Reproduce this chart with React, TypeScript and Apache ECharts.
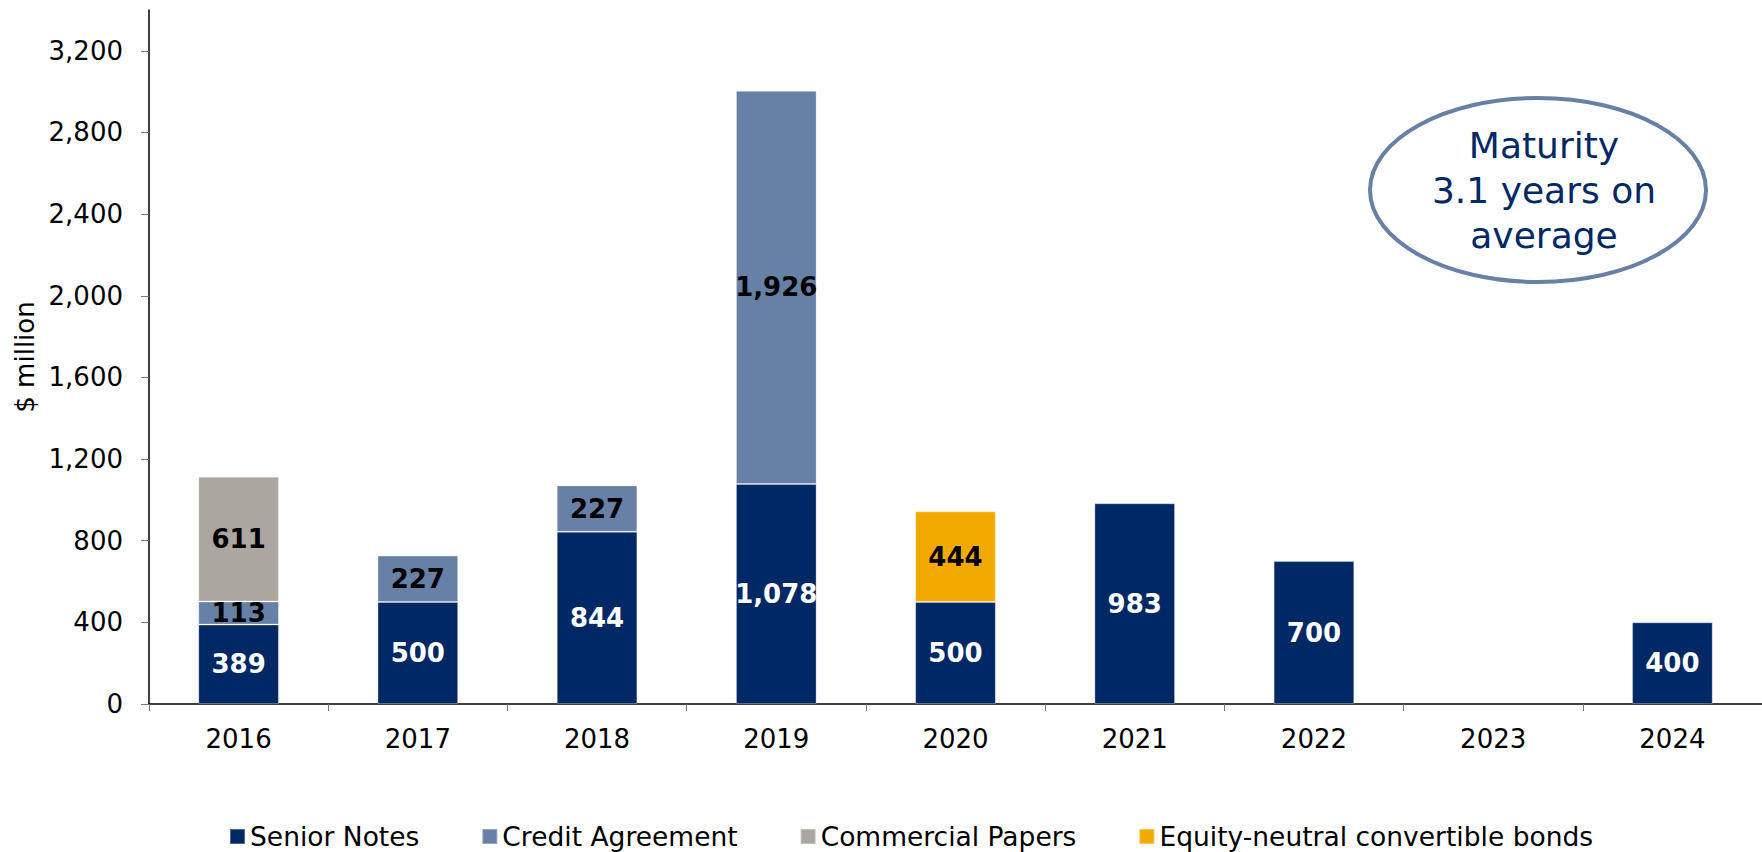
import React, { useEffect, useRef } from "react";
import * as echarts from "echarts";

const years = ["2016", "2017", "2018", "2019", "2020", "2021", "2022", "2023", "2024"];
const seniorNotes = [389, 500, 844, 1078, 500, 983, 700, 0, 400];
const creditAgreement = [113, 227, 227, 1926, 0, 0, 0, 0, 0];
const commercialPapers = [611, 0, 0, 0, 0, 0, 0, 0, 0];
const convertibleBonds = [0, 0, 0, 0, 444, 0, 0, 0, 0];
const yTicks = [0, 400, 800, 1200, 1600, 2000, 2400, 2800, 3200];
const noteLines = ["Maturity", "3.1 years on", "average"];

const FONT = "'DejaVu Sans', Verdana, sans-serif";
const fmt = (v: number) => v.toLocaleString("en-US");

export default function App() {
  const ref = useRef<HTMLDivElement>(null);
  useEffect(() => {
    if (!ref.current) return;
    const chart = echarts.init(ref.current, null, { renderer: "svg" });
    const mkSeries = (name: string, data: number[], color: string, labelColor: string) => ({
      name,
      type: "bar",
      stack: "total",
      data: data.map((v) => (v ? v : null)),
      barWidth: "45%",
      itemStyle: { color, borderColor: "rgba(255,255,255,0.3)", borderWidth: 1 },
      label: {
        show: true,
        position: "inside",
        color: labelColor,
        fontFamily: FONT,
        fontSize: 26,
        fontWeight: "bold",
        formatter: (p: any) => (p.value ? fmt(p.value) : ""),
      },
    });
    chart.setOption({
      animation: false,
      backgroundColor: "#ffffff",
      textStyle: { fontFamily: FONT },
      grid: { left: 149, right: -9, top: 10, bottom: 148, containLabel: false },
      legend: {
        left: 224,
        top: 818,
        itemWidth: 15,
        itemHeight: 15,
        itemGap: 62,
        icon: "rect",
        textStyle: { fontFamily: FONT, fontSize: 26.5, color: "#000" },
        data: ["Senior Notes", "Credit Agreement", "Commercial Papers", "Equity-neutral convertible bonds"],
      },
      xAxis: {
        type: "category",
        data: years,
        axisLine: { lineStyle: { color: "#000", width: 1.5 } },
        axisTick: { show: true, length: 7, lineStyle: { color: "#777" } },
        axisLabel: { fontFamily: FONT, fontSize: 26, color: "#000", margin: 22 },
      },
      yAxis: {
        type: "value",
        min: 0,
        max: 3400,
        interval: 400,
        name: "$ million",
        nameLocation: "middle",
        nameGap: 111,
        nameTextStyle: { fontFamily: FONT, fontSize: 26, color: "#000" },
        splitLine: { show: false },
        axisLine: { show: true, lineStyle: { color: "#000", width: 1.5 } },
        axisTick: { show: true, length: 8, lineStyle: { color: "#777" }, customValues: yTicks },
        axisLabel: {
          fontFamily: FONT,
          fontSize: 26,
          color: "#000",
          margin: 26,
          customValues: yTicks,
          formatter: (v: number) => fmt(v),
        },
      },
      series: [
        mkSeries("Senior Notes", seniorNotes, "#002865", "#ffffff"),
        mkSeries("Credit Agreement", creditAgreement, "#6780A5", "#000000"),
        mkSeries("Commercial Papers", commercialPapers, "#ABA69F", "#000000"),
        mkSeries("Equity-neutral convertible bonds", convertibleBonds, "#F2AA00", "#000000"),
      ],
      graphic: [
        {
          type: "ellipse",
          shape: { cx: 1538, cy: 190, rx: 168, ry: 92 },
          style: { fill: "#ffffff", stroke: "#6780A5", lineWidth: 4 },
          z: 10,
        },
        {
          type: "text",
          x: 1544,
          y: 190,
          z: 11,
          style: {
            text: noteLines.join("\n"),
            fill: "#002865",
            font: `36px ${FONT}`,
            lineHeight: 45,
            align: "center",
            verticalAlign: "middle",
          },
        },
      ],
    });
    return () => chart.dispose();
  }, []);
  return (
    <div
      ref={ref}
      style={{ position: "fixed", left: 0, top: 0, width: 1762, height: 852 }}
    />
  );
}
